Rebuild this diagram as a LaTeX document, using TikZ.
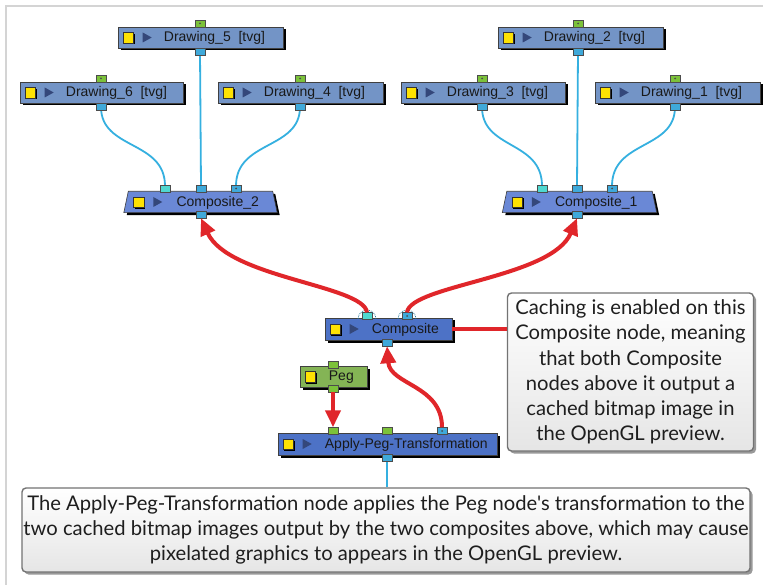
\documentclass[tikz,border=0pt]{standalone}
\usepackage{fontspec}
\setmainfont{Lato}[Ligatures=TeXOff]
\newfontfamily\uifont{Liberation Sans}
\usetikzlibrary{calc,shadows,arrows.meta}
\definecolor{drawcol}{HTML}{7394C6}
\definecolor{compcol}{HTML}{6A88D6}
\definecolor{maincol}{HTML}{4D72C6}
\definecolor{pegcol}{HTML}{84B455}
\definecolor{pgreen}{HTML}{7CC23A}
\definecolor{pblue}{HTML}{3FA9DA}
\definecolor{pcyan}{HTML}{4FD8D0}
\definecolor{wire}{HTML}{35B0E0}
\definecolor{redarrow}{HTML}{E0262A}
\definecolor{tricol}{HTML}{34477A}
\definecolor{txt}{HTML}{1E1E1E}
\definecolor{frame}{HTML}{D4D4D4}
\tikzset{
  box/.style={draw=black!75, line width=0.6pt, minimum height=21pt, inner sep=0pt,
    drop shadow={shadow xshift=2.5pt, shadow yshift=-2.5pt, fill=black, opacity=1}},
  drawbox/.style={box, fill=drawcol},
  compbox/.style={minimum height=21pt, inner sep=0pt},
  mainbox/.style={box, fill=maincol, minimum height=22pt},
  pegbox/.style={box, fill=pegcol},
  port/.style={draw=black!70, line width=0.5pt, minimum width=10pt, minimum height=7pt, inner sep=0pt},
  gport/.style={port, fill=pgreen},
  bport/.style={port, fill=pblue},
  cport/.style={port, fill=pcyan},
  lbl/.style={anchor=west, font=\uifont\fontsize{14}{15}\selectfont, text=black!90, inner sep=0pt},
  wireline/.style={draw=wire, line width=1.8pt},
  redline/.style={draw=redarrow, line width=4pt},
  redtip/.style={-{Triangle[length=17pt,width=15pt]}},
  callout/.style={draw=black!55, line width=1.4pt, rounded corners=4pt,
    top color=white, bottom color=black!10, text=txt, align=center,
    font=\fontsize{20.2}{25.3}\selectfont, inner sep=0pt,
    drop shadow={shadow xshift=2.5pt, shadow yshift=-2.5pt, fill=black!40, opacity=1}},
}
\newcommand\icons[3]{% node, label, text offset
  \fill[black] ($(#1.west)+(6.5,-3.5)$) rectangle ($(#1.west)+(17,7)$);
  \filldraw[fill=yellow!85!orange, draw=black!80, line width=0.4pt] ($(#1.west)+(5,-5)$) rectangle ($(#1.west)+(15.5,5.5)$);
  \fill[tricol] ($(#1.west)+(25,-5)$) -- ($(#1.west)+(34,0)$) -- ($(#1.west)+(25,5)$) -- cycle;
  \node[lbl] at ($(#1.west)+(#3,0.5)$) {#2};
}
\newcommand\trapbox[1]{%
  \fill[black] ($(#1.north west)+(2.5,2.5)$) -- ($(#1.north east)+(2.5,2.5)$) -- ($(#1.south east)+(7,2.5)$) -- ($(#1.south west)+(-1.5,2.5)$) -- cycle;
  \filldraw[fill=compcol, draw=black!75, line width=0.6pt] (#1.north west) -- (#1.north east) -- ($(#1.south east)+(4.5,0)$) -- ($(#1.south west)+(-4.5,0)$) -- cycle;
}
\newcommand\dotin[1]{\fill[black!70] (#1) circle (1pt);}
\begin{document}
\begin{tikzpicture}[x=1pt,y=-1pt]
\useasboundingbox (0,0) rectangle (763,585);
\fill[white] (0,0) rectangle (763,585);
\draw[frame, line width=2pt] (6,585) -- (6,6) -- (763,6);

\node[drawbox, minimum width=165pt] (d5) at (200.5,37.5) {};
\node[drawbox, minimum width=163pt] (d6) at (101.5,92.5) {};
\node[drawbox, minimum width=165pt] (d4) at (300.5,92.5) {};
\node[drawbox, minimum width=165pt] (d2) at (580.5,37.5) {};
\node[drawbox, minimum width=164pt] (d3) at (483,92.5) {};
\node[drawbox, minimum width=165pt] (d1) at (677.5,92.5) {};
\icons{d5}{Drawing\_5\ \ [tvg]}{46}
\icons{d6}{Drawing\_6\ \ [tvg]}{46}
\icons{d4}{Drawing\_4\ \ [tvg]}{46}
\icons{d2}{Drawing\_2\ \ [tvg]}{46}
\icons{d3}{Drawing\_3\ \ [tvg]}{46}
\icons{d1}{Drawing\_1\ \ [tvg]}{46}

\node[compbox, minimum width=144pt] (c2) at (200.5,202) {};
\node[compbox, minimum width=145pt] (c1) at (579.5,202) {};
\trapbox{c2}
\trapbox{c1}
\icons{c2}{Composite\_2}{48}
\icons{c1}{Composite\_1}{48}

\node[mainbox, minimum width=127pt] (comp) at (388.5,329) {};
\icons{comp}{Composite}{47}

\node[pegbox, minimum width=67pt] (peg) at (333.5,376.5) {};
\fill[black] ($(peg.west)+(6.5,-3.5)$) rectangle ($(peg.west)+(17,7)$);
\filldraw[fill=yellow!85!orange, draw=black!80, line width=0.4pt] ($(peg.west)+(5,-5)$) rectangle ($(peg.west)+(15.5,5.5)$);
\node[lbl] at ($(peg.west)+(29,0.5)$) {Peg};

\node[mainbox, minimum width=219pt] (apg) at (387.5,444) {};
\icons{apg}{Apply-Peg-Transformation}{47}

% ---------- wires ----------
\draw[wireline] (200,52) -- (201,186);
\draw[wireline] (101,107) .. controls (101,150) and (165,140) .. (165,186);
\draw[wireline] (300,107) .. controls (300,150) and (236,140) .. (236,186);
\draw[wireline] (578,52) -- (577,186);
\draw[wireline] (482,107) .. controls (482,150) and (542,140) .. (542,186);
\draw[wireline] (675,107) .. controls (675,150) and (612,140) .. (612,186);

% ---------- ports ----------
\node[gport] (d5i) at (200,23.5) {}; \dotin{d5i}
\node[bport] (d5o) at (200,51.5) {};
\node[gport] (d6i) at (101,78.5) {}; \dotin{d6i}
\node[bport] (d6o) at (101,106.5) {};
\node[gport] (d4i) at (300,78.5) {}; \dotin{d4i}
\node[bport] (d4o) at (300,106.5) {};
\node[gport] (d2i) at (578,23.5) {}; \dotin{d2i}
\node[bport] (d2o) at (578,51.5) {};
\node[gport] (d3i) at (482,78.5) {}; \dotin{d3i}
\node[bport] (d3o) at (482,106.5) {};
\node[gport] (d1i) at (675,78.5) {}; \dotin{d1i}
\node[bport] (d1o) at (675,106.5) {};

\node[cport] (c2a) at (165,188.5) {};
\node[bport] (c2b) at (201,188.5) {};
\node[bport] (c2c) at (236,188.5) {}; \dotin{c2c}
\node[bport] (c2o) at (201,214.5) {};
\node[cport] (c1a) at (542,188.5) {};
\node[bport] (c1b) at (577,188.5) {};
\node[bport] (c1c) at (612,188.5) {}; \dotin{c1c}
\node[bport] (c1o) at (577,214.5) {};

\node[cport] (cpa) at (367,316) {};
\node[bport] (cpb) at (407,316) {}; \dotin{cpb}
\node[bport] (cpo) at (387,342.5) {};
\draw[wire!70!black, densely dotted, line width=0.8pt] ($(cpa)+(-9,3)$) arc[start angle=180, end angle=0, radius=9pt];
\draw[wire!70!black, densely dotted, line width=0.8pt] ($(cpb)+(-9,3)$) arc[start angle=180, end angle=0, radius=9pt];

\node[gport] (pegi) at (333,364.5) {};
\node[gport] (pego) at (333,388.5) {};
\node[gport] (apa) at (333,431) {};
\node[gport] (apb) at (387,431) {};
\node[bport] (apc) at (442,431) {}; \dotin{apc}
\node[bport] (apo) at (387,458) {};

% ---------- callouts ----------
\node[callout, minimum width=246pt, minimum height=158pt] (call1) at (630.5,372) {Caching is enabled on this\\Composite node, meaning\\that both Composite\\nodes above it output a\\cached bitmap image in\\the OpenGL preview.};
\node[callout, minimum width=728pt, minimum height=84pt] (call2) at (386,530) {The Apply-Peg-Transformation node applies the Peg node's transformation to the\\two cached bitmap images output by the two composites above, which may cause\\pixelated graphics to appears in the OpenGL preview.};

\draw[wire, line width=1.5pt] (apo.south) -- (call2.north -| apo);
\draw[redarrow, line width=3pt] (comp.east) -- (call1.west |- comp.east);

% ---------- red arrows ----------
\draw[redline, redtip] (cpa.north) .. controls (363,285) and (228,278) .. (c2o.south);
\draw[redline, redtip] (cpb.north) .. controls (411,285) and (552,278) .. (c1o.south);
\draw[redline, redtip] (pego.south) -- (apa.north);
\draw[redline, redtip] (apc.north) .. controls (442,385) and (390,385) .. (cpo.south);
\end{tikzpicture}
\end{document}
